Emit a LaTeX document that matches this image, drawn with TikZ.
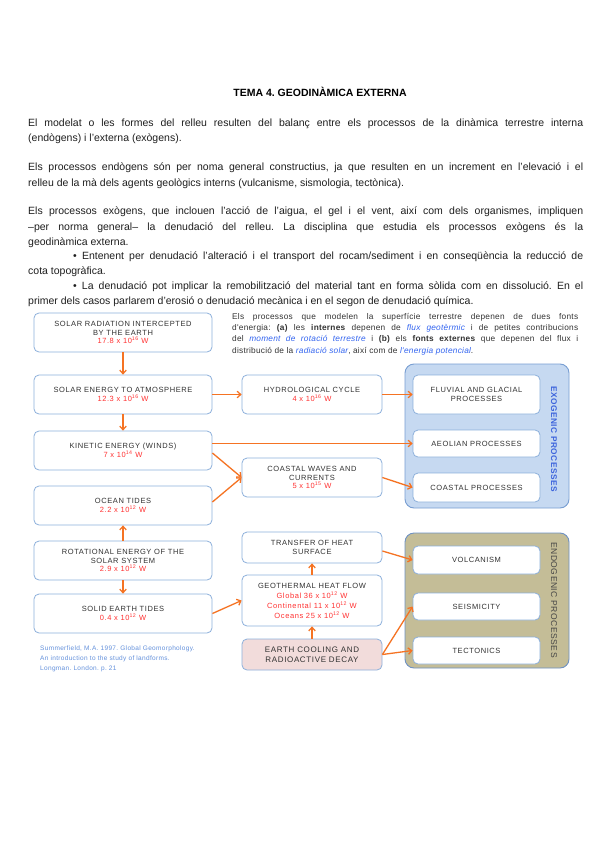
\documentclass[tikz,border=0pt]{standalone}
\usepackage{fontspec}
\setmainfont{Liberation Sans}
\newfontfamily\boxf[LetterSpace=8]{Liberation Sans}
\newfontfamily\smallf[LetterSpace=3]{Liberation Sans}
\newfontfamily\citef[LetterSpace=5]{Liberation Sans}
\newfontfamily\grpf[LetterSpace=6]{Liberation Sans}
\usetikzlibrary{arrows.meta}
\definecolor{boxblue}{RGB}{141,176,219}
\definecolor{txtgray}{RGB}{50,50,50}
\definecolor{valred}{RGB}{255,50,50}
\definecolor{arrorange}{RGB}{245,115,35}
\definecolor{exofill}{RGB}{198,217,241}
\definecolor{exoborder}{RGB}{120,158,210}
\definecolor{endofill}{RGB}{196,189,151}
\definecolor{endoborder}{RGB}{110,145,195}
\definecolor{pinkfill}{RGB}{242,220,219}
\definecolor{citeblue}{RGB}{100,145,220}
\definecolor{itblue}{RGB}{50,100,240}
\definecolor{exotxt}{RGB}{60,100,220}
\definecolor{endotxt}{RGB}{70,70,70}
\newcommand\jl[2]{\makebox[#1][s]{#2}}
\newcommand\vr[1]{{\color{valred}#1}}
\newcommand\sps[1]{\textsuperscript{#1}}
\frenchspacing
\begin{document}
\begin{tikzpicture}[x=1pt,y=-1pt,
  bx/.style={draw=boxblue, line width=0.8pt, rounded corners=5pt, fill=white, align=center,
    font=\boxf\fontsize{7.5}{8.7}\selectfont, text=txtgray, inner sep=0pt},
  lcol/.style={bx, minimum width=178pt, minimum height=39pt},
  mcol/.style={bx, minimum width=140pt},
  inbox/.style={bx, minimum width=127pt},
  grp/.style={line width=0.9pt, rounded corners=9pt, minimum width=164pt, inner sep=0pt},
  arr/.style={draw=arrorange, line width=1.3pt, -{Straight Barb[length=3.5pt,width=6.5pt]}},
  body/.style={anchor=base west, inner sep=0pt, font=\fontsize{10.5}{15}\selectfont, text=black!88},
  tr/.style={anchor=base west, inner sep=0pt, font=\smallf\fontsize{8.3}{11}\selectfont, text=black!80},
  cite/.style={anchor=base west, inner sep=0pt, font=\citef\fontsize{6.5}{10}\selectfont, text=citeblue}
]
\useasboundingbox (0,0) rectangle (600,848);
\fill[white] (0,0) rectangle (600,848);

% title and body text
\node[anchor=base, inner sep=0pt, font=\bfseries\fontsize{10.5}{12}\selectfont] (title) at (320,97) {TEMA 4. GEODINÀMICA EXTERNA};
\node[body] (p1a) at (28,126) {\jl{555pt}{El modelat o les formes del relleu resulten del balanç entre els processos de la dinàmica terrestre interna}};
\node[body] (p1b) at (28,142) {(endògens) i l'externa (exògens).};
\node[body] (p2a) at (28,170) {\jl{555pt}{Els processos endògens són per noma general constructius, ja que resulten en un increment en l'elevació i el}};
\node[body] (p2b) at (28,186) {relleu de la mà dels agents geològics interns (vulcanisme, sismologia, tectònica).};
\node[body] (p3a) at (28,214) {\jl{555pt}{Els processos exògens, que inclouen l'acció de l'aigua, el gel i el vent, així com dels organismes, impliquen}};
\node[body] (p3b) at (28,230) {\jl{555pt}{–per norma general– la denudació del relleu. La disciplina que estudia els processos exògens és la}};
\node[body] (p3c) at (28,245) {geodinàmica externa.};
\node[body] (b1a) at (73,259) {\jl{510pt}{• Entenent per denudació l'alteració i el transport del rocam/sediment i en conseqüència la reducció de}};
\node[body] (b1b) at (28,274) {cota topogràfica.};
\node[body] (b2a) at (73,289) {\jl{510pt}{• La denudació pot implicar la remobilització del material tant en forma sòlida com en dissolució. En el}};
\node[body] (b2b) at (28,304) {primer dels casos parlarem d'erosió o denudació mecànica i en el segon de denudació química.};

% top-right text
\node[tr] (t1) at (232,319) {\jl{346pt}{Els processos que modelen la superfície terrestre depenen de dues fonts}};
\node[tr] (t2) at (232,330) {\jl{346pt}{d'energia: \textbf{(a)} les \textbf{internes} depenen de {\color{itblue}\itshape flux geotèrmic} i de petites contribucions}};
\node[tr] (t3) at (232,341) {\jl{346pt}{del {\color{itblue}\itshape moment de rotació terrestre} i \textbf{(b)} els \textbf{fonts externes} que depenen del flux i}};
\node[tr] (t4) at (232,353) {distribució de la {\color{itblue}\itshape radiació solar}, així com de {\color{itblue}\itshape l'energia potencial}.};

% groups
\node[grp, draw=exoborder, fill=exofill, minimum height=144pt] (exo) at (487,436) {};
\node[grp, draw=endoborder, fill=endofill, minimum height=135pt] (endo) at (487,600.5) {};
\node[rotate=-90, inner sep=0pt, font=\grpf\bfseries\fontsize{8.3}{9}\selectfont, text=exotxt] (exol) at (554,439) {EXOGENIC PROCESSES};
\node[rotate=-90, inner sep=0pt, font=\grpf\fontsize{8.5}{9}\selectfont, text=endotxt] (endol) at (554,600) {ENDOGENIC PROCESSES};

% left column
\node[lcol] (b1) at (123,332.5) {SOLAR RADIATION INTERCEPTED\\BY THE EARTH\\\vr{17.8 x 10\sps{16} W}};
\node[lcol] (b2) at (123,394.5) {SOLAR ENERGY TO ATMOSPHERE\\\vr{12.3 x 10\sps{16} W}};
\node[lcol] (b3) at (123,450.5) {KINETIC ENERGY (WINDS)\\\vr{7 x 10\sps{14} W}};
\node[lcol] (b4) at (123,505.5) {OCEAN TIDES\\\vr{2.2 x 10\sps{12} W}};
\node[lcol] (b5) at (123,560.5) {ROTATIONAL ENERGY OF THE\\SOLAR SYSTEM\\\vr{2.9 x 10\sps{12} W}};
\node[lcol] (b6) at (123,613.5) {SOLID EARTH TIDES\\\vr{0.4 x 10\sps{12} W}};

% middle column
\node[mcol, minimum height=39pt] (m1) at (312,394.5) {HYDROLOGICAL CYCLE\\\vr{4 x 10\sps{16} W}};
\node[mcol, minimum height=39pt] (m2) at (312,477.5) {COASTAL WAVES AND\\CURRENTS\\\vr{5 x 10\sps{15} W}};
\node[mcol, minimum height=31pt] (m3) at (312,547.5) {TRANSFER OF HEAT\\SURFACE};
\node[mcol, minimum height=51pt, font=\boxf\fontsize{7.5}{10}\selectfont] (m4) at (312,600.5) {GEOTHERMAL HEAT FLOW\\\vr{Global 36 x 10\sps{12} W}\\\vr{Continental 11 x 10\sps{12} W}\\\vr{Oceans 25 x 10\sps{12} W}};
\node[mcol, minimum height=31pt, fill=pinkfill, font=\boxf\fontsize{8}{10}\selectfont] (m5) at (312,654.5) {EARTH COOLING AND\\RADIOACTIVE DECAY};

% inner boxes
\node[inbox, minimum height=39pt] (fl) at (476.5,394.5) {FLUVIAL AND GLACIAL\\PROCESSES};
\node[inbox, minimum height=27pt] (ae) at (476.5,443.5) {AEOLIAN PROCESSES};
\node[inbox, minimum height=29pt] (cp) at (476.5,487.5) {COASTAL PROCESSES};
\node[inbox, minimum height=28pt] (vo) at (476.5,560) {VOLCANISM};
\node[inbox, minimum height=27pt] (se) at (476.5,606.5) {SEISMICITY};
\node[inbox, minimum height=27pt] (te) at (476.5,650.5) {TECTONICS};

% citation
\node[cite] (c1) at (40,650.5) {Summerfield, M.A. 1997. Global Geomorphology.};
\node[cite] (c2) at (40,660.5) {An introduction to the study of landforms.};
\node[cite] (c3) at (40,670.5) {Longman. London. p. 21};

% arrows
\draw[arr] (b1.south) -- (b2.north);
\draw[arr] (b2.south) -- (b3.north);
\draw[arr] (b5.north) -- (b4.south);
\draw[arr] (b5.south) -- (b6.north);
\draw[arr] (b2.east) -- (m1.west);
\draw[arr] (m1.east) -- (fl.west);
\draw[arr] ([yshift=7pt]b3.east) -- ([yshift=7pt]b3.east -| ae.west);
\draw[arr] ([yshift=-2.5pt]b3.east) -- (m2.west);
\draw[arr] ([yshift=3.5pt]b4.east) -- (m2.west);
\draw[arr] (m2.east) -- (cp.west);
\draw[arr] (b6.east) -- (m4.west);
\draw[arr] (m4.north) -- (m3.south);
\draw[arr] (m5.north) -- (m4.south);
\draw[arr] ([yshift=-3.5pt]m3.east) -- (vo.west);
\draw[arr] (m5.east) -- (se.west);
\draw[arr] (m5.east) -- (te.west);
\end{tikzpicture}
\end{document}
